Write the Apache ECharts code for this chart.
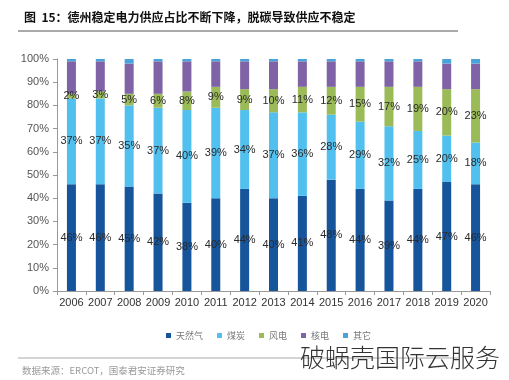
<!DOCTYPE html>
<html><head><meta charset="utf-8">
<script src="https://cdn.jsdelivr.net/npm/echarts@6/dist/echarts.min.js"></script>
<style>html,body{margin:0;padding:0;background:#fff}#c{width:509px;height:380px}</style>
</head><body><div id="c"></div>
<script>
const years = ['2006','2007','2008','2009','2010','2011','2012','2013','2014','2015','2016','2017','2018','2019','2020'];
const seriesNames = ['天然气','煤炭','风电','核电','其它'];
const gas     = [46,46,45,42,38,40,44,40,41,48,44,39,44,47,46];
const coal    = [37,37,35,37,40,39,34,37,36,28,29,32,25,20,18];
const wind    = [2,3,5,6,8,9,9,10,11,12,15,17,19,20,23];
const nuclear = [14,13,13,14,13,11,12,12,11,11,11,11,11,11,11];
const other   = [1,1,2,1,1,1,1,1,1,1,1,1,1,2,2];
const yTicks = [0,10,20,30,40,50,60,70,80,90,100];

const colors = ['#16549c','#52c0ee','#9bbb59','#7f63a6','#4aa3d8'];
const dataSets = [gas, coal, wind, nuclear, other];
const showLabel = [true,true,true,false,false];
const FONT = '"Liberation Sans", Arial, sans-serif';

const chart = echarts.init(document.getElementById('c'), null, {renderer:'canvas'});
chart.setOption({
  animation:false,
  backgroundColor:'#fff',
  title:{text:'图  15：德州稳定电力供应占比不断下降，脱碳导致供应不稳定',left:19,top:6,
    textStyle:{fontSize:12,fontWeight:'bold',color:'#111',fontFamily:'"Noto Sans CJK SC"'}},
  graphic:[
    {type:'line',shape:{x1:18,y1:31,x2:458,y2:31},style:{stroke:'#555',lineWidth:1}},
    {type:'line',shape:{x1:18,y1:358,x2:458,y2:358},style:{stroke:'#aaa',lineWidth:1}},
    {type:'text',left:22,top:366,style:{text:'数据来源：ERCOT，国泰君安证券研究',fontSize:9.5,fill:'#9a9a9a',fontFamily:'"Noto Sans CJK SC"'}},
    {type:'text',left:300,top:345,style:{text:'破蜗壳国际云服务',fontSize:25,fill:'#333',fontFamily:'"Noto Sans CJK SC"',fontWeight:300}}
  ],
  legend:{data:seriesNames,bottom:35,left:161,icon:'rect',itemWidth:5,itemHeight:5,itemGap:14,
    textStyle:{fontSize:9,color:'#777',fontFamily:'"Noto Sans CJK SC"'}},
  grid:{left:57,right:19,top:59,bottom:89},
  xAxis:{type:'category',data:years,
    axisLine:{lineStyle:{color:'#999'}},
    axisTick:{show:true,alignWithLabel:false,length:4,lineStyle:{color:'#999'}},
    axisLabel:{interval:0,fontSize:11,color:'#333',margin:6,fontFamily:FONT}},
  yAxis:{type:'value',min:0,max:100,interval:10,
    axisLine:{show:true,lineStyle:{color:'#999'}},
    axisTick:{show:true,length:4,inside:false,lineStyle:{color:'#999'}},
    splitLine:{show:false},
    axisLabel:{fontSize:11,color:'#555',margin:8,formatter:v=>yTicks.includes(v)?v+'%':'',fontFamily:FONT}},
  series: seriesNames.map((n,i)=>({
    name:n,type:'bar',stack:'total',barWidth:9,
    itemStyle:{color:colors[i]},
    label:{show:showLabel[i],position:'inside',formatter:'{c}%',fontSize:11,color:'#2a2a2a',
      fontFamily:FONT},
    data:dataSets[i]
  }))
});
</script></body></html>
